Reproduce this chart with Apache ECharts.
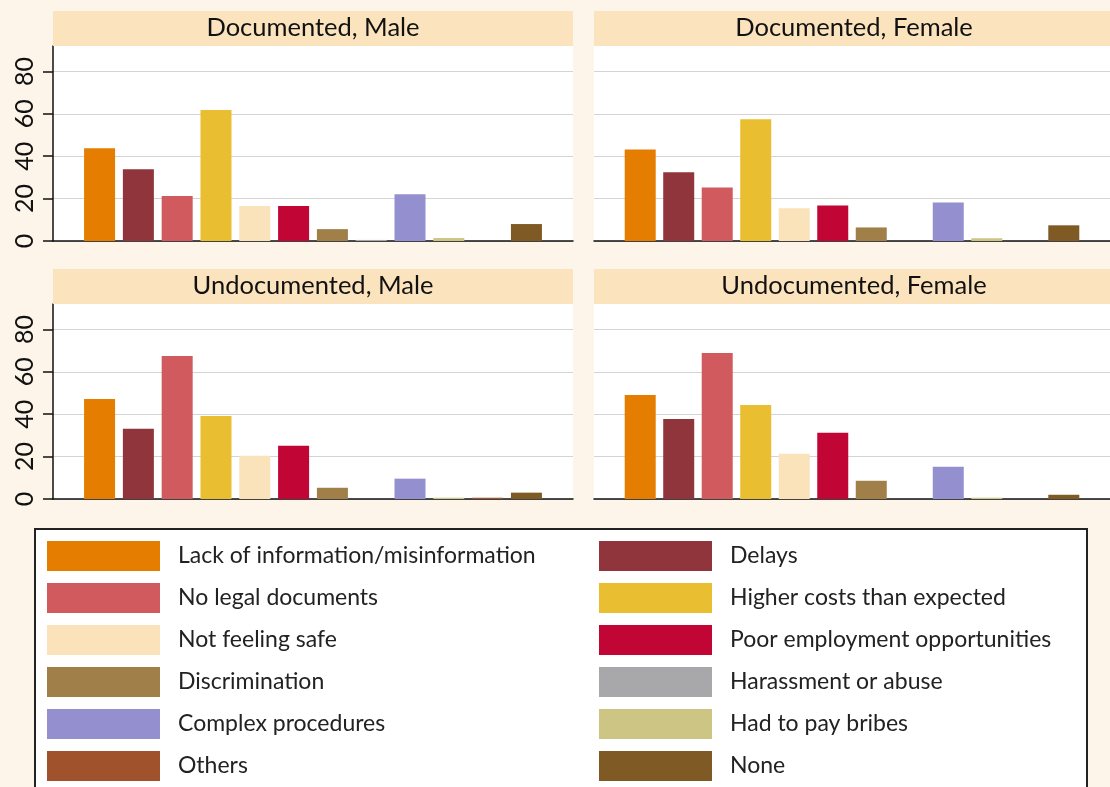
<!DOCTYPE html>
<html>
<head>
<meta charset="utf-8">
<script src="https://cdn.jsdelivr.net/npm/echarts@6/dist/echarts.min.js"></script>
<style>
  html, body { margin: 0; padding: 0; background: #fdf5e9; }
  #main { width: 1110px; height: 787px; }
</style>
</head>
<body>
<div id="main"></div>
<script>
var categories = [
  "Lack of information/misinformation", "Delays", "No legal documents",
  "Higher costs than expected", "Not feeling safe", "Poor employment opportunities",
  "Discrimination", "Harassment or abuse", "Complex procedures",
  "Had to pay bribes", "Others", "None"
];
var colors = ["#e57e00", "#90353b", "#d05a5e", "#e9bf31", "#fae3bb", "#c10534",
              "#a08048", "#a8a8ab", "#9490d0", "#cdc584", "#a0522d", "#7f5a24"];

var panelTitles = ["Documented, Male", "Documented, Female", "Undocumented, Male", "Undocumented, Female"];
var docMale     = [43.8, 33.9, 21.2, 61.8, 16.5, 16.5, 5.6, 0.5, 22.1, 1.4, 0, 8.0];
var docFemale   = [43.2, 32.4, 25.3, 57.4, 15.4, 16.8, 6.4, 0, 18.2, 1.3, 0, 7.4];
var undocMale   = [47.2, 33.1, 67.5, 39.2, 20.4, 25.1, 5.3, 0, 9.6, 0.6, 0.6, 3.0];
var undocFemale = [49.1, 37.8, 68.9, 44.4, 21.3, 31.2, 8.6, 0, 15.2, 0.6, 0, 2.0];
var yTicks = [0, 20, 40, 60, 80];

var panelData = [docMale, docFemale, undocMale, undocFemale];
var legendLeft = [0, 2, 4, 6, 8, 10].map(function (i) { return categories[i]; });
var legendRight = [1, 3, 5, 7, 9, 11].map(function (i) { return categories[i]; });

var font = "Lato, 'Noto Sans', sans-serif";
var pos = [
  { left: 53, top: 46 }, { left: 594, top: 46 },
  { left: 53, top: 304 }, { left: 594, top: 304 }
];
var pw = 520, ph = 195;

var grids = [], xAxes = [], yAxes = [], series = [], graphics = [];

pos.forEach(function (p, k) {
  grids.push({
    left: p.left, top: p.top, width: pw, height: ph,
    show: true, backgroundColor: "#ffffff", borderWidth: 0
  });
  xAxes.push({
    type: "value", gridIndex: k, min: -1.2, max: 12.2,
    axisLine: { show: true, onZero: false, lineStyle: { color: "#111", width: 1.5 } },
    axisTick: { show: false }, axisLabel: { show: false }, splitLine: { show: false }
  });
  var isLeft = (k % 2 === 0);
  yAxes.push({
    type: "value", gridIndex: k, min: 0, max: 92, interval: 20,
    axisLine: { show: isLeft, onZero: false, lineStyle: { color: "#111", width: 1.5 } },
    axisTick: { show: isLeft, length: 10, lineStyle: { color: "#111", width: 1.5 } },
    axisLabel: {
      show: isLeft, rotate: 90, margin: 16, fontSize: 25, color: "#111", fontFamily: font,
      showMaxLabel: false,
      formatter: function (v) { return yTicks.indexOf(v) >= 0 ? String(v) : ""; }
    },
    splitLine: { show: true, showMaxLine: false, lineStyle: { color: "#d4d4d4", width: 1.2 } }
  });
  graphics.push({
    type: "rect", z: 10,
    shape: { x: p.left, y: p.top - 35, width: pw, height: 35 },
    style: { fill: "#fae3bd" }
  });
  graphics.push({
    type: "text", z: 11,
    x: p.left + pw / 2, y: p.top - 18,
    style: {
      text: panelTitles[k], fill: "#111", font: "25.5px " + font,
      textAlign: "center", textVerticalAlign: "middle"
    }
  });
  categories.forEach(function (c, i) {
    series.push({
      name: c, type: "bar", xAxisIndex: k, yAxisIndex: k, stack: "p" + k,
      barWidth: 31, itemStyle: { color: colors[i] },
      data: [[i, panelData[k][i]]], silent: true
    });
  });
});

graphics.push({
  type: "rect", z: 0,
  shape: { x: 35, y: 529, width: 1052, height: 280 },
  style: { fill: "#ffffff", stroke: "#222", lineWidth: 2 }
});

var legendBase = {
  orient: "vertical", top: 541, padding: 0, itemWidth: 113, itemHeight: 30, itemGap: 12,
  icon: "rect", selectedMode: false,
  textStyle: { fontSize: 23, color: "#222", fontFamily: font, padding: [0, 0, 0, 13] }
};

var chart = echarts.init(document.getElementById("main"));
chart.setOption({
  backgroundColor: "#fdf5e9",
  animation: false,
  grid: grids,
  xAxis: xAxes,
  yAxis: yAxes,
  legend: [
    Object.assign({}, legendBase, { left: 47, data: legendLeft }),
    Object.assign({}, legendBase, { left: 599, data: legendRight })
  ],
  graphic: graphics,
  series: series
});
</script>
</body>
</html>
